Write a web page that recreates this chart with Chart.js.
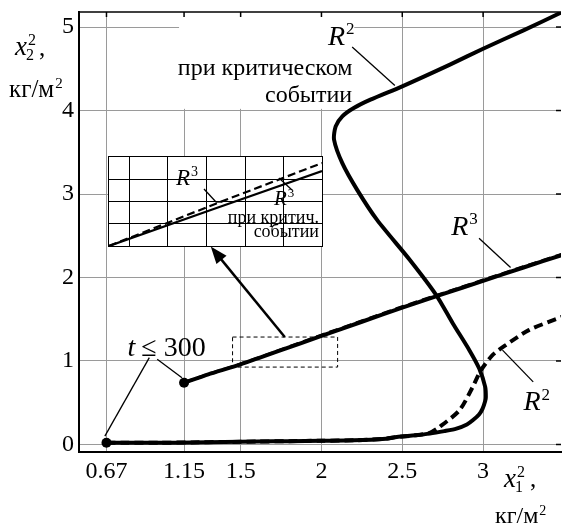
<!DOCTYPE html>
<html>
<head>
<meta charset="utf-8">
<script src="https://cdn.jsdelivr.net/npm/chart.js@4.4.1/dist/chart.umd.min.js"></script>
<style>
  html, body { margin: 0; padding: 0; background: #fff; }
  #wrap { position: relative; width: 566px; height: 528px; }
  #inset { position: absolute; background: #fff; border: 1.5px solid #000; box-sizing: border-box; }
</style>
</head>
<body>
<div id="wrap">
  <canvas id="main"></canvas>
  <div id="inset"><canvas id="zoomview"></canvas></div>
</div>
<script>
// tick labels
const xTicks = [0.67, 1.15, 1.5, 2, 2.5, 3];
const yTicks = [0, 1, 2, 3, 4, 5];

// R^2 при критическом событии (сплошная)
const r2CritX = [0.67, 0.8, 1.0, 1.2, 1.4, 1.6, 1.8, 2.0, 2.2, 2.4, 2.466, 2.58, 2.67, 2.76, 2.835, 2.9, 2.936, 2.975, 2.997, 3.013, 3.017,
                 3.013, 2.976, 2.915, 2.813, 2.71, 2.547, 2.344, 2.221, 2.129, 2.078, 2.088, 2.129, 2.20, 2.303, 2.5, 2.795, 3.0, 3.25, 3.49];
const r2CritY = [0.02, 0.02, 0.02, 0.025, 0.03, 0.035, 0.04, 0.045, 0.05, 0.07, 0.09, 0.11, 0.13, 0.16, 0.19, 0.24, 0.29, 0.36, 0.43, 0.52, 0.57,
                 0.69, 0.91, 1.13, 1.45, 1.79, 2.21, 2.69, 3.05, 3.37, 3.65, 3.81, 3.93, 4.03, 4.13, 4.29, 4.55, 4.74, 4.96, 5.18];

// R^2 (штриховая)
const r2X = [0.67, 0.8, 1.0, 1.2, 1.4, 1.6, 1.8, 2.0, 2.2, 2.4, 2.466, 2.58, 2.67, 2.73, 2.854, 2.936, 2.987, 3.058, 3.14, 3.283, 3.49];
const r2Y = [0.02, 0.02, 0.02, 0.025, 0.03, 0.035, 0.04, 0.045, 0.05, 0.07, 0.09, 0.11, 0.14, 0.21, 0.41, 0.69, 0.89, 1.07, 1.19, 1.37, 1.53];

// R^3 при критическом событии (сплошная)
const r3CritX = [1.15, 1.3, 1.5, 1.75, 2.0, 2.25, 2.5, 2.75, 3.0, 3.25, 3.49];
const r3CritY = [0.74, 0.84, 0.96, 1.13, 1.30, 1.47, 1.64, 1.80, 1.96, 2.12, 2.27];

// R^3 (штриховая)
const r3X = [1.15, 1.3, 1.5, 1.75, 2.0, 2.25, 2.5, 2.75, 3.0, 3.25, 3.49];
const r3Y = [0.74, 0.842, 0.964, 1.136, 1.31, 1.48, 1.65, 1.81, 1.97, 2.13, 2.28];

// увеличенный фрагмент
const insetX = [1.435, 1.78, 2.123];
const insetR3 = [0.9, 1.09, 1.273];
const insetR3Crit = [0.9, 1.07, 1.237];
const insetXGrid = [1.5, 1.625, 1.75, 1.875, 2.0];
const insetYGrid = [1.0, 1.1, 1.2];

const serif = '"Liberation Serif", "Times New Roman", serif';
Chart.defaults.font.family = serif;
Chart.defaults.color = '#000';

const pts = (xs, ys) => xs.map((x, i) => ({ x: x, y: ys[i] }));
const firstDot = ctx => ctx.dataIndex === 0 ? 5 : 0;

function line(ctx, x1, y1, x2, y2) {
    ctx.beginPath(); ctx.moveTo(x1, y1); ctx.lineTo(x2, y2); ctx.stroke();
}
function txt(ctx, s, x, y, size, italic, align) {
    ctx.font = (italic ? 'italic ' : '') + size + 'px ' + serif;
    ctx.textAlign = align || 'left';
    ctx.textBaseline = 'alphabetic';
    ctx.fillStyle = '#000';
    ctx.fillText(s, x, y);
    return ctx.measureText(s).width;
}
// italic letter with superscript / subscript
function sym(ctx, letter, x, y, size, sup, sub) {
    const w = txt(ctx, letter, x, y, size, true);
    const s = Math.round(size * 0.6);
    let w2 = 0;
    if (sup) w2 = Math.max(w2, txt(ctx, sup, x + w + 1, y - size * 0.38, s));
    if (sub) w2 = Math.max(w2, txt(ctx, sub, x + w - 1, y + size * 0.18, s));
    return x + w + w2 + 1;
}

const decor = {
    id: 'decor',
    beforeDatasetsDraw(chart) {
        const { ctx, chartArea: a, scales } = chart;
        // белый фон под подписью R^2
        const x1 = scales.x.getPixelForValue(1.119), x2 = scales.x.getPixelForValue(2.203);
        const y2 = scales.y.getPixelForValue(4.02);
        ctx.save();
        ctx.fillStyle = '#fff';
        ctx.fillRect(x1, a.top, x2 - x1, y2 - a.top);
        ctx.restore();
    },
    afterDatasetsDraw(chart) {
        const { ctx, chartArea: a, scales } = chart;
        const P = (x, y) => [scales.x.getPixelForValue(x), scales.y.getPixelForValue(y)];
        ctx.save();
        ctx.strokeStyle = '#000';
        ctx.lineWidth = 1.5;
        line(ctx, a.left, a.top, a.right, a.top);
        xTicks.forEach(v => { const x = scales.x.getPixelForValue(v); line(ctx, x, a.top, x, a.top + 5); });
        yTicks.forEach(v => { const y = scales.y.getPixelForValue(v); line(ctx, a.right - 5, y, a.right, y); });

        // пунктирная рамка фрагмента
        ctx.lineWidth = 1;
        ctx.setLineDash([4, 3]);
        const [bx1, by1] = P(1.45, 1.287), [bx2, by2] = P(2.10, 0.927);
        ctx.strokeRect(bx1, by1, bx2 - bx1, by2 - by1);
        ctx.setLineDash([]);

        // стрелка
        const [ax1, ay1] = P(1.773, 1.287), [ax2, ay2] = P(1.315, 2.37);
        const ang = Math.atan2(ay2 - ay1, ax2 - ax1);
        ctx.lineWidth = 2.5;
        line(ctx, ax1, ay1, ax2 - 12 * Math.cos(ang), ay2 - 12 * Math.sin(ang));
        ctx.beginPath();
        ctx.moveTo(ax2, ay2);
        ctx.lineTo(ax2 - 17 * Math.cos(ang) + 6.5 * Math.sin(ang), ay2 - 17 * Math.sin(ang) - 6.5 * Math.cos(ang));
        ctx.lineTo(ax2 - 17 * Math.cos(ang) - 6.5 * Math.sin(ang), ay2 - 17 * Math.sin(ang) + 6.5 * Math.cos(ang));
        ctx.closePath();
        ctx.fillStyle = '#000';
        ctx.fill();

        // выноски
        ctx.lineWidth = 1.3;
        const leaders = [
            [0.935, 1.04, 0.66, 0.10], [0.984, 1.02, 1.137, 0.80],
            [2.19, 4.76, 2.454, 4.30],
            [2.975, 2.47, 3.17, 2.12],
            [3.12, 1.13, 3.31, 0.75]
        ];
        leaders.forEach(l => { const [p1, q1] = P(l[0], l[1]), [p2, q2] = P(l[2], l[3]); line(ctx, p1, q1, p2, q2); });

        // подписи
        let [tx, ty] = P(0.80, 1.06);
        const tw = txt(ctx, 't', tx, ty, 28, true);
        txt(ctx, '\u2264 300', tx + tw + 6, ty, 28);

        [tx, ty] = P(2.04, 4.79); sym(ctx, 'R', tx, ty, 28, '2');
        [tx, ty] = P(1.652, 4.43); txt(ctx, 'при критическом', tx, ty, 24, false, 'center');
        [tx, ty] = P(2.19, 4.10); txt(ctx, 'событии', tx, ty, 24, false, 'right');
        [tx, ty] = P(2.803, 2.51); sym(ctx, 'R', tx, ty, 28, '3');
        [tx, ty] = P(3.25, 0.41); sym(ctx, 'R', tx, ty, 28, '2');

        // названия осей
        let e = sym(ctx, 'x', 15, 55, 27, '2', '2');
        txt(ctx, ',', e + 3, 56, 25);
        e = 9 + txt(ctx, 'кг/м', 9, 97, 25);
        txt(ctx, '2', e + 1, 88, 15);

        e = sym(ctx, 'x', 504, 487, 27, '2', '1');
        txt(ctx, ',', e + 5, 487, 25);
        e = 495 + txt(ctx, 'кг/м', 495, 523, 24);
        txt(ctx, '2', e + 1, 515, 14);
        ctx.restore();
    }
};

const mainChart = new Chart(document.getElementById('main'), {
    type: 'scatter',
    data: {
        datasets: [
            { label: 'R2 крит.', data: pts(r2CritX, r2CritY), showLine: true, borderColor: '#000', borderWidth: 4,
              tension: 0.25, pointRadius: firstDot, pointBackgroundColor: '#000', pointBorderWidth: 0 },
            { label: 'R2', data: pts(r2X, r2Y), showLine: true, borderColor: '#000', borderWidth: 4, borderDash: [9, 5],
              tension: 0.25, pointRadius: 0 },
            { label: 'R3 крит.', data: pts(r3CritX, r3CritY), showLine: true, borderColor: '#000', borderWidth: 4,
              tension: 0.2, pointRadius: firstDot, pointBackgroundColor: '#000', pointBorderWidth: 0 },
            { label: 'R3', data: pts(r3X, r3Y), showLine: true, borderColor: '#000', borderWidth: 3, borderDash: [9, 5],
              tension: 0.2, pointRadius: 0 }
        ]
    },
    options: {
        responsive: true,
        maintainAspectRatio: false,
        animation: false,
        layout: { padding: { top: 12, right: 0, left: 0, bottom: 0 } },
        plugins: { legend: { display: false }, tooltip: { enabled: false } },
        scales: {
            x: {
                type: 'linear', min: 0.5, max: 3.482,
                afterBuildTicks: s => { s.ticks = xTicks.map(v => ({ value: v })); },
                afterFit: s => { s.height = 76; s.paddingLeft = 0; s.paddingRight = 0; },
                ticks: { font: { size: 24 }, color: '#000', padding: 5, maxRotation: 0, callback: v => String(v) },
                grid: { color: '#9a9a9a', lineWidth: 1, drawTicks: false },
                border: { color: '#000', width: 2 }
            },
            y: {
                type: 'linear', min: -0.09, max: 5.18,
                afterBuildTicks: s => { s.ticks = yTicks.map(v => ({ value: v })); },
                afterFit: s => { s.width = 79; s.paddingTop = 0; s.paddingBottom = 0; },
                ticks: { font: { size: 24 }, color: '#000', padding: 5, callback: v => String(v) },
                grid: { color: '#9a9a9a', lineWidth: 1, drawTicks: false },
                border: { color: '#000', width: 2 }
            }
        }
    },
    plugins: [decor]
});

// положение врезки
const inset = document.getElementById('inset');
inset.style.left = '108px';
inset.style.top = '156px';
inset.style.width = '215px';
inset.style.height = '91px';

const insetLabels = {
    id: 'insetLabels',
    afterDatasetsDraw(chart) {
        const ctx = chart.ctx;
        ctx.save();
        ctx.strokeStyle = '#000';
        ctx.lineWidth = 1.3;
        sym(ctx, 'R', 67, 28, 23, '3');
        line(ctx, 95, 32, 107, 45);
        line(ctx, 107, 45, 112, 45);
        sym(ctx, 'R', 165, 48, 21, '3');
        line(ctx, 170, 21, 183, 33);
        txt(ctx, 'при критич.', 210, 66, 18, false, 'right');
        txt(ctx, 'событии', 210, 80, 18, false, 'right');
        ctx.restore();
    }
};

new Chart(document.getElementById('zoomview'), {
    type: 'scatter',
    data: {
        datasets: [
            { label: 'R3', data: pts(insetX, insetR3), showLine: true, borderColor: '#000', borderWidth: 2.2,
              borderDash: [8, 4], pointRadius: 0 },
            { label: 'R3 крит.', data: pts(insetX, insetR3Crit), showLine: true, borderColor: '#000', borderWidth: 2.2,
              pointRadius: 0 }
        ]
    },
    options: {
        responsive: true,
        maintainAspectRatio: false,
        animation: false,
        layout: { padding: 0 },
        plugins: { legend: { display: false }, tooltip: { enabled: false } },
        scales: {
            x: {
                type: 'linear', min: 1.435, max: 2.123,
                afterBuildTicks: s => { s.ticks = insetXGrid.map(v => ({ value: v })); },
                afterFit: s => { s.height = 0; },
                ticks: { display: false },
                grid: { color: '#000', lineWidth: 1, drawTicks: false },
                border: { display: false }
            },
            y: {
                type: 'linear', min: 0.9, max: 1.3,
                afterBuildTicks: s => { s.ticks = insetYGrid.map(v => ({ value: v })); },
                afterFit: s => { s.width = 0; },
                ticks: { display: false },
                grid: { color: '#000', lineWidth: 1, drawTicks: false },
                border: { display: false }
            }
        }
    },
    plugins: [insetLabels]
});
</script>
</body>
</html>
